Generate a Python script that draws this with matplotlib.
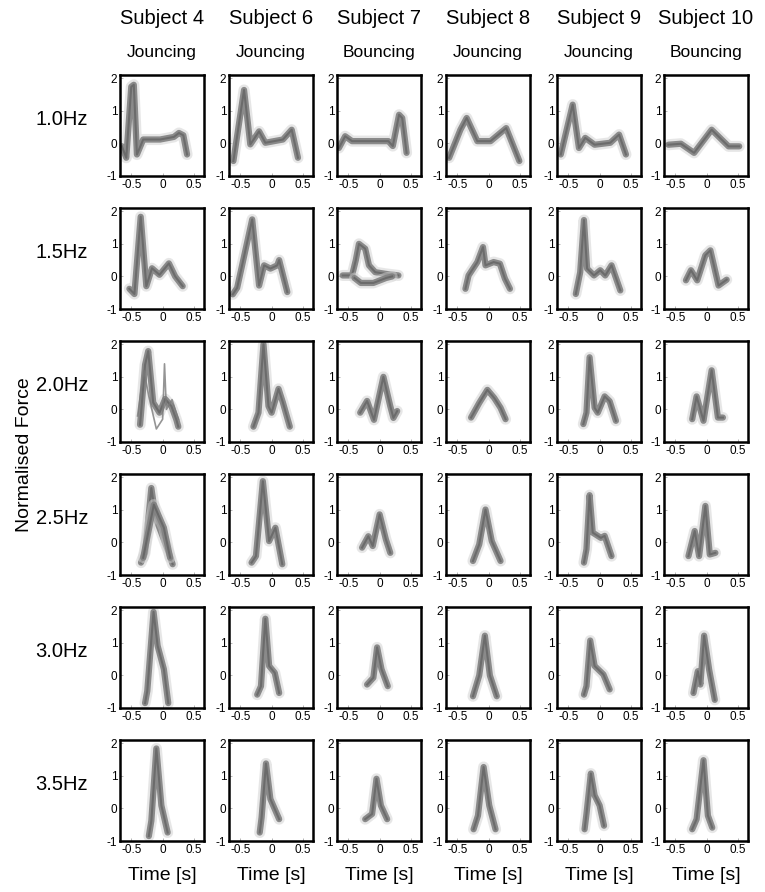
import numpy as np
import matplotlib
matplotlib.use('Agg')
import matplotlib.pyplot as plt

plt.rcParams['font.family'] = ['Liberation Sans', 'DejaVu Sans']
plt.rcParams['axes.unicode_minus'] = False

subjects = ['Subject 4', 'Subject 6', 'Subject 7', 'Subject 8', 'Subject 9', 'Subject 10']
modes = ['Jouncing', 'Jouncing', 'Bouncing', 'Jouncing', 'Jouncing', 'Bouncing']
freqs = ['1.0Hz', '1.5Hz', '2.0Hz', '2.5Hz', '3.0Hz', '3.5Hz']

# time [s] / normalised force, one list per subject, one block per frequency
t_10 = [[-0.65, -0.58, -0.5, -0.46, -0.41, -0.31, -0.04, 0.18, 0.26, 0.33, 0.39],
        [-0.61, -0.44, -0.34, -0.2, -0.1, 0.18, 0.32, 0.42],
        [-0.65, -0.55, -0.44, 0.14, 0.21, 0.31, 0.36, 0.43],
        [-0.63, -0.45, -0.35, -0.18, 0.03, 0.28, 0.49],
        [-0.62, -0.43, -0.33, -0.23, -0.08, 0.17, 0.31, 0.42],
        [-0.61, -0.41, -0.2, 0.08, 0.35, 0.52]]
f_10 = [[-0.09, -0.44, 1.74, 1.8, -0.34, 0.12, 0.12, 0.2, 0.32, 0.25, -0.34],
        [-0.54, 1.64, -0.03, 0.37, 0.02, 0.12, 0.42, -0.44],
        [-0.14, 0.22, 0.07, 0.07, -0.08, 0.88, 0.78, -0.29],
        [-0.44, 0.42, 0.78, 0.07, 0.07, 0.47, -0.54],
        [-0.34, 1.19, -0.14, 0.17, -0.04, 0.02, 0.27, -0.34],
        [-0.04, -0.01, -0.29, 0.42, -0.09, -0.09]]

t_15 = [[-0.53, -0.45, -0.35, -0.26, -0.17, -0.05, 0.1, 0.2, 0.32],
        [-0.62, -0.55, -0.31, -0.2, -0.12, -0.02, 0.09, 0.12, 0.25],
        [-0.59, -0.44, -0.38, -0.33, -0.23, -0.17, -0.07, 0.09, 0.3],
        [-0.37, -0.32, -0.18, -0.09, -0.05, 0.08, 0.18, 0.26, 0.34],
        [-0.38, -0.31, -0.25, -0.2, -0.09, 0.01, 0.09, 0.19, 0.33],
        [-0.33, -0.25, -0.15, -0.02, 0.06, 0.19, 0.32]]
f_15 = [[-0.38, -0.54, 1.83, -0.3, 0.25, 0.05, 0.4, 0.0, -0.3],
        [-0.55, -0.35, 1.75, -0.28, 0.34, 0.24, 0.34, 0.5, -0.48],
        [0.03, 0.03, 0.5, 1.0, 0.85, 0.34, 0.13, 0.08, 0.03],
        [-0.38, 0.03, 0.44, 0.9, 0.34, 0.44, 0.39, -0.07, -0.38],
        [-0.54, 0.13, 1.73, 0.24, 0.03, 0.19, 0.03, 0.34, -0.43],
        [-0.12, 0.19, -0.12, 0.65, 0.8, -0.28, -0.1]]

t_20 = [[-0.36, -0.28, -0.23, -0.15, -0.05, 0.04, 0.14, 0.22, 0.25],
        [-0.29, -0.21, -0.13, -0.05, 0.0, 0.11, 0.18, 0.29],
        [-0.31, -0.2, -0.09, 0.06, 0.17, 0.22, 0.28],
        [-0.28, -0.15, -0.02, 0.09, 0.19, 0.27],
        [-0.26, -0.21, -0.16, -0.08, -0.03, 0.08, 0.16, 0.26],
        [-0.23, -0.16, -0.05, 0.08, 0.18, 0.26]]
f_20 = [[-0.47, 1.37, 1.79, 0.21, -0.1, 0.32, 0.1, -0.32, -0.53],
        [-0.53, -0.1, 2.0, 0.1, -0.1, 0.63, 0.21, -0.53],
        [-0.1, 0.26, -0.32, 1.0, 0.1, -0.26, -0.05],
        [-0.25, 0.2, 0.6, 0.35, 0.05, -0.3],
        [-0.45, -0.1, 1.6, 0.05, -0.1, 0.4, 0.25, -0.35],
        [-0.3, 0.4, -0.35, 1.2, -0.25, -0.25]]

t_25 = [[-0.345, -0.28, -0.18, -0.11, -0.01, 0.09, 0.16],
        [-0.32, -0.25, -0.14, -0.04, 0.06, 0.17],
        [-0.28, -0.18, -0.11, 0.0, 0.1, 0.17],
        [-0.25, -0.15, -0.05, 0.05, 0.19],
        [-0.25, -0.21, -0.16, -0.11, 0.02, 0.08, 0.19],
        [-0.29, -0.19, -0.12, -0.02, 0.05, 0.14]]
f_25 = [[-0.62, -0.32, 1.67, 0.75, 0.24, -0.27, -0.67],
        [-0.62, -0.42, 1.88, 0.04, 0.45, -0.67],
        [-0.16, 0.19, -0.11, 0.86, 0.09, -0.32],
        [-0.57, -0.06, 1.01, 0.04, -0.57],
        [-0.62, -0.21, 1.45, 0.3, 0.14, 0.2, -0.42],
        [-0.42, 0.35, -0.42, 1.12, -0.37, -0.32]]

t_30 = [[-0.28, -0.245, -0.145, -0.08, 0.02, 0.09],
        [-0.23, -0.17, -0.1, -0.04, 0.05, 0.12],
        [-0.2, -0.1, -0.04, 0.03, 0.13],
        [-0.25, -0.15, -0.06, 0.02, 0.13],
        [-0.25, -0.21, -0.15, -0.08, 0.06, 0.16],
        [-0.21, -0.14, -0.1, -0.04, 0.04, 0.13]]
f_30 = [[-0.85, -0.48, 1.95, 0.91, 0.19, -0.85],
        [-0.59, -0.33, 1.74, 0.29, 0.08, -0.54],
        [-0.28, -0.07, 0.86, 0.19, -0.33],
        [-0.64, 0.0, 1.22, 0.0, -0.64],
        [-0.59, -0.33, 1.07, 0.29, 0.03, -0.43],
        [-0.54, 0.13, -0.28, 1.22, 0.18, -0.75]]

t_35 = [[-0.22, -0.18, -0.1, -0.02, 0.08],
        [-0.19, -0.16, -0.09, -0.02, 0.12],
        [-0.23, -0.12, -0.05, 0.02, 0.12],
        [-0.24, -0.17, -0.08, 0.01, 0.11],
        [-0.24, -0.21, -0.14, -0.08, 0.0, 0.07],
        [-0.23, -0.16, -0.05, 0.02, 0.09]]
f_35 = [[-0.85, -0.38, 1.84, 0.09, -0.74],
        [-0.74, -0.28, 1.38, 0.29, -0.33],
        [-0.33, -0.17, 0.91, 0.09, -0.33],
        [-0.64, -0.22, 1.27, 0.09, -0.64],
        [-0.64, -0.17, 1.07, 0.4, 0.09, -0.53],
        [-0.64, -0.33, 1.48, -0.22, -0.59]]

# a few panels show a second, clearly separate trace
extra_cells = [(1, 2), (2, 0), (3, 0)]
extra_thin = [False, True, False]
extra_t = [[-0.4, -0.3, -0.1, 0.1, 0.2],
           [-0.4, -0.3, -0.22, -0.1, 0.0, 0.03, 0.06, 0.15, 0.25],
           [-0.31, -0.14, 0.02, 0.12]]
extra_f = [[-0.05, -0.2, -0.2, -0.05, 0.0],
           [-0.2, 1.2, 0.4, -0.6, -0.3, 1.4, 0.0, 0.3, -0.3],
           [-0.47, 1.16, 0.45, -0.47]]

all_t = [t_10, t_15, t_20, t_25, t_30, t_35]
all_f = [f_10, f_15, f_20, f_25, f_30, f_35]


def draw_trace(ax, t, f, thin=False):
    if thin:
        ax.plot(t, f, color='#7a7a7a', lw=1.2, alpha=0.8)
        return
    ax.plot(t, f, color='#cfcfcf', lw=8, alpha=0.5, solid_capstyle='round')
    ax.plot(t, f, color='#808080', lw=4.5, alpha=0.9, solid_capstyle='round')
    ax.plot(t, f, color='#4d4d4d', lw=1.5, alpha=0.5)


W, H = 765, 892
lefts = [120, 229, 337, 446, 557, 664]
tops = [75, 208, 341, 474, 607, 740]
aw, ah = 84, 101

fig = plt.figure(figsize=(7.65, 8.92), dpi=100)

for r in range(6):
    for c in range(6):
        ax = fig.add_axes([lefts[c] / W, 1 - (tops[r] + ah) / H, aw / W, ah / H])
        draw_trace(ax, all_t[r][c], all_f[r][c])
        if (r, c) in extra_cells:
            k = extra_cells.index((r, c))
            draw_trace(ax, extra_t[k], extra_f[k], thin=extra_thin[k])
        ax.set_xlim(-0.68, 0.66)
        ax.set_ylim(-1, 2.1)
        ax.set_xticks([-0.5, 0, 0.5])
        ax.set_xticklabels(['-0.5', '0', '0.5'])
        ax.set_yticks([-1, 0, 1, 2])
        ax.set_yticklabels(['-1', '0', '1', '2'])
        ax.tick_params(direction='in', length=2, width=0.5, labelsize=8.5, pad=2, color='#999999')
        for s in ax.spines.values():
            s.set_linewidth(1.8)
        if r == 0:
            ax.text(0.5, 1 + 57 / ah, subjects[c], transform=ax.transAxes,
                    ha='center', va='center', fontsize=14.5)
            ax.text(0.5, 1 + 23 / ah, modes[c], transform=ax.transAxes,
                    ha='center', va='center', fontsize=12.5)
        if r == 5:
            ax.text(0.5, -34 / ah, 'Time [s]', transform=ax.transAxes,
                    ha='center', va='center', fontsize=14)
    fig.text(62 / W, 1 - (tops[r] + ah / 2 - 6) / H, freqs[r],
             ha='center', va='center', fontsize=14.5)

fig.text(25 / W, 1 - 455 / H, 'Normalised Force', rotation=90,
         ha='center', va='center', fontsize=14)

fig.savefig('out.png', dpi=100)
